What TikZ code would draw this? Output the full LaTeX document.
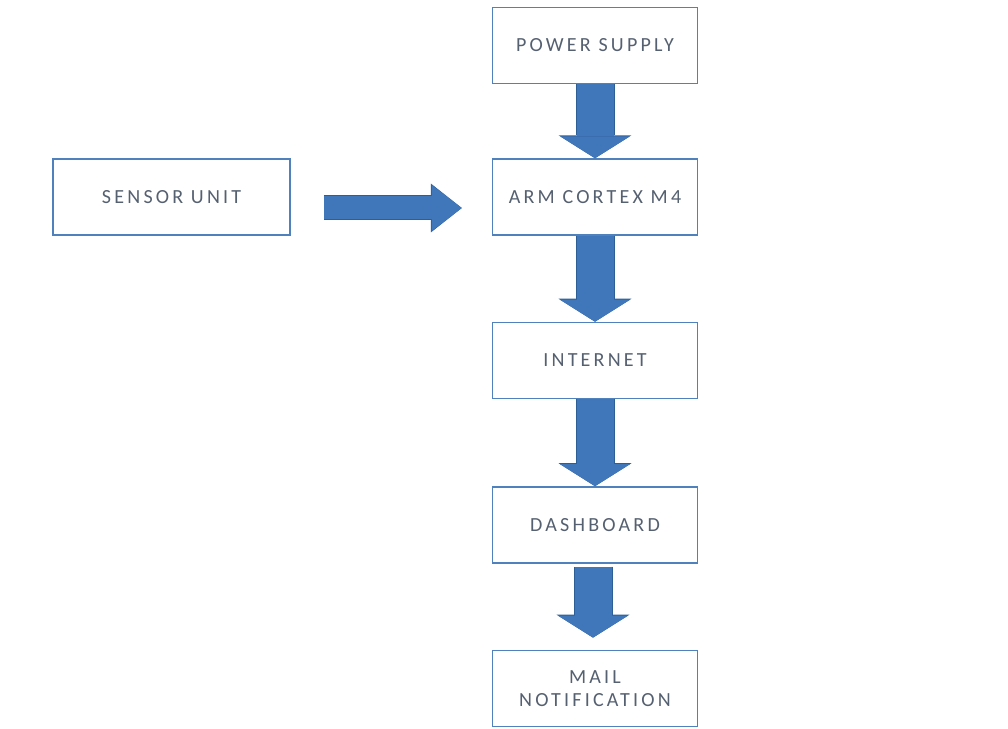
\documentclass[tikz,border=0pt]{standalone}
\usepackage{fontspec}
\setmainfont{Carlito}
\newfontfamily\blockfont[LetterSpace=16]{Carlito}
\usetikzlibrary{positioning,arrows.meta}
\definecolor{BoxBlue}{RGB}{79,129,189}
\definecolor{ArrowBlue}{RGB}{64,118,186}
\definecolor{ArrowEdge}{RGB}{46,94,150}
\definecolor{LabelGrey}{RGB}{85,96,112}
\tikzset{
  block/.style={draw=BoxBlue,line width=0.85pt,fill=white,inner sep=0pt,
    minimum width=4.1cm,minimum height=1.52cm,align=center,text=LabelGrey,
    font=\blockfont\fontsize{11.4pt}{13pt}\selectfont},
  flow/.style={draw=ArrowBlue,line width=0.74cm,
    -{Triangle[width=1.4cm,length=0.44cm,line width=0pt]},
    preaction={draw=ArrowEdge,line width=0.78cm,
      -{Triangle[width=1.46cm,length=0.46cm,line width=0pt]}}},
  sideflow/.style={draw=ArrowBlue,line width=0.46cm,
    -{Triangle[width=0.92cm,length=0.6cm,line width=0pt]},
    preaction={draw=ArrowEdge,line width=0.5cm,
      -{Triangle[width=0.98cm,length=0.62cm,line width=0pt]}}}
}
\begin{document}
\begin{tikzpicture}[x=0.02cm,y=-0.02cm]
  \fill[white] (0,0) rectangle (1008,729);
  \useasboundingbox (0,0) rectangle (1008,729);

  \node[block] (cpu) at (595,197) {ARM CORTEX M4};
  \node[block,above=1.48cm of cpu] (psu) {POWER SUPPLY};
  \node[block,left=4.02cm of cpu,minimum width=4.74cm] (sensor) {SENSOR UNIT};
  \node[block,below=1.72cm of cpu] (internet) {INTERNET};
  \node[block,below=1.74cm of internet] (dash) {DASHBOARD};
  \node[block,below=1.72cm of dash] (mail) {MAIL\\NOTIFICATION};

  \draw[flow] (psu) -- (cpu);
  \draw[sideflow] ([shift={(33,11)}]sensor.east) -- ([shift={(-30,11)}]cpu.west);
  \draw[flow] (cpu) -- (internet);
  \draw[flow] (internet) -- (dash);
  \draw[flow] ([shift={(-2,3)}]dash.south) -- ([shift={(-2,-12)}]mail.north);
\end{tikzpicture}
\end{document}
